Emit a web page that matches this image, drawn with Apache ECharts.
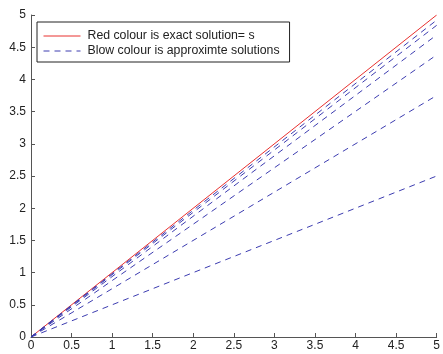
<!DOCTYPE html>
<html><head><meta charset="utf-8">
<script src="https://cdn.jsdelivr.net/npm/echarts@6/dist/echarts.min.js"></script>
<style>html,body{margin:0;padding:0;background:#fff}#c{width:443px;height:354px}</style>
</head><body><div id="c"></div>
<script>
var xValues = [0, 5];
var exactValues = [0, 5];
var approxEndValues = [2.5, 3.75, 4.38, 4.69, 4.84, 4.92];
var exactName = 'Red colour is exact solution= s';
var approxName = 'Blow colour is approximte solutions';

var series = [{
  name: exactName, type: 'line', symbol: 'none', silent: true,
  data: xValues.map(function (x, i) { return [x, exactValues[i]]; }),
  lineStyle: { color: '#e8312f', width: 1 }, itemStyle: { color: '#e8312f' }, z: 3
}];
approxEndValues.forEach(function (v) {
  series.push({
    name: approxName, type: 'line', symbol: 'none', silent: true,
    data: [[xValues[0], 0], [xValues[1], v]],
    lineStyle: { color: '#3c3cb0', width: 1, type: [6, 5] }, itemStyle: { color: '#3c3cb0' }
  });
});

var chart = echarts.init(document.getElementById('c'));
chart.setOption({
  animation: false,
  backgroundColor: '#fff',
  grid: { left: 31, right: 5, top: 15, bottom: 17, containLabel: false },
  legend: {
    data: [exactName, approxName],
    orient: 'vertical', left: 37, top: 22,
    backgroundColor: '#fff', borderColor: '#222', borderWidth: 1,
    padding: [8, 10, 5, 6], itemWidth: 37, itemHeight: 10, itemGap: 3,
    itemStyle: { opacity: 0 },
    lineStyle: { width: 1 },
    textStyle: { fontFamily: 'Liberation Sans', fontSize: 12.3, color: '#222', padding: [0, 0, 0, 2] }
  },
  xAxis: {
    type: 'value', min: 0, max: 5, interval: 0.5,
    axisLine: { lineStyle: { color: '#555' } },
    axisTick: { inside: true, length: 4, lineStyle: { color: '#555' } },
    splitLine: { show: false },
    axisLabel: { fontFamily: 'Liberation Sans', fontSize: 12, color: '#222', margin: 3 }
  },
  yAxis: {
    type: 'value', min: 0, max: 5, interval: 0.5,
    axisLine: { show: true, lineStyle: { color: '#555' } },
    axisTick: { show: true, inside: true, length: 4, lineStyle: { color: '#555' } },
    splitLine: { show: false },
    axisLabel: { fontFamily: 'Liberation Sans', fontSize: 12, color: '#222', margin: 5 }
  },
  series: series
});
</script></body></html>
